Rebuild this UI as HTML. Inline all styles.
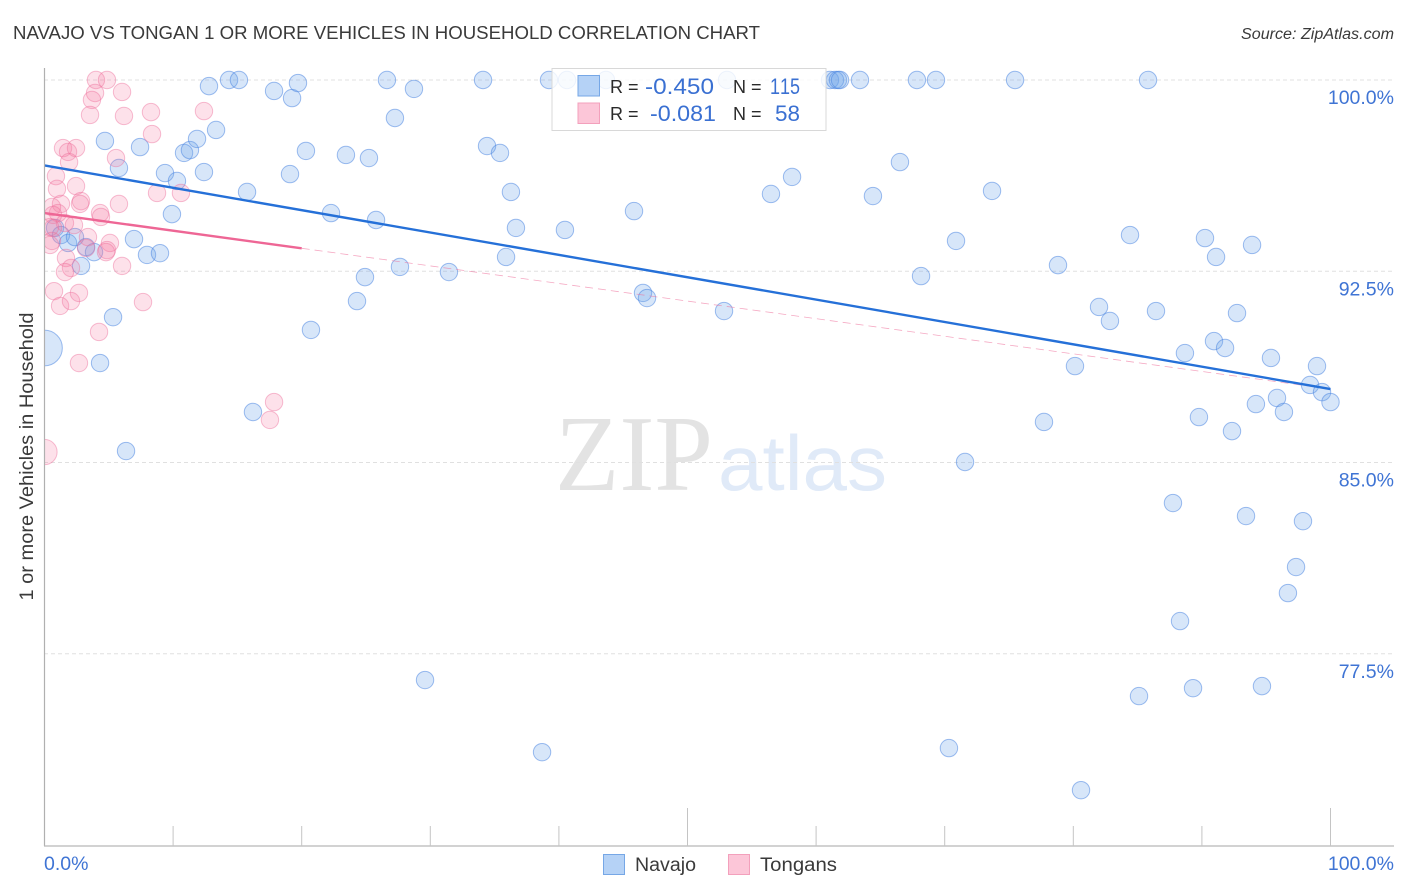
<!DOCTYPE html>
<html lang="en">
<head>
<meta charset="utf-8">
<title>Navajo vs Tongan 1 or More Vehicles in Household Correlation Chart</title>
<style>
html,body{margin:0;padding:0;background:#fff;}
svg{display:block;font-family:"Liberation Sans",Arial,sans-serif;}
</style>
</head>
<body>
<svg id="chart" xmlns="http://www.w3.org/2000/svg" width="1406" height="892" viewBox="0 0 1406 892">
  <defs><clipPath id="plot-clip"><rect x="44" y="60" width="1350" height="786"/></clipPath></defs>
  <text x="13" y="39" font-size="18.5" fill="#3a3a3a" textLength="747" lengthAdjust="spacingAndGlyphs">NAVAJO VS TONGAN 1 OR MORE VEHICLES IN HOUSEHOLD CORRELATION CHART</text>
  <text x="1394" y="39" font-size="15.5" font-style="italic" fill="#3a3a3a" text-anchor="end" textLength="153" lengthAdjust="spacingAndGlyphs">Source: ZipAtlas.com</text>
  <g>
    <text x="555" y="490" font-family="'Liberation Serif',serif" font-size="108" fill="#e3e3e3" textLength="158" lengthAdjust="spacingAndGlyphs">ZIP</text>
    <text x="718" y="490" font-size="78" fill="#e0eaf8" textLength="169" lengthAdjust="spacingAndGlyphs">atlas</text>
  </g>
  <g id="grid"></g>
  <g id="points-navajo" clip-path="url(#plot-clip)"></g>
  <g id="points-tongan" clip-path="url(#plot-clip)"></g>
  <g id="trends"></g>
  <g id="axes"></g>
  <text transform="translate(33,456.5) rotate(-90)" font-size="19" fill="#3a3a3a" text-anchor="middle" textLength="288" lengthAdjust="spacingAndGlyphs">1 or more Vehicles in Household</text>
  <g>
    <rect x="552" y="68.5" width="274" height="62" fill="#fff" fill-opacity="0.82" stroke="#d8d8d8" stroke-width="1"/>
    <rect x="578" y="75.5" width="21.5" height="20.5" fill="#b5d2f6" stroke="#76a7e6" stroke-width="1"/>
    <rect x="578" y="103" width="21.5" height="20.5" fill="#fcc6d8" stroke="#f3a0bc" stroke-width="1"/>
    <text x="610" y="93" font-size="18" fill="#2a2a2a">R =</text>
    <text x="645" y="94" font-size="22" fill="#3a70d2" textLength="69" lengthAdjust="spacingAndGlyphs">-0.450</text>
    <text x="733" y="93" font-size="18" fill="#2a2a2a">N =</text>
    <text x="770" y="94" font-size="22" fill="#3a70d2" font-kerning="none" style="font-kerning:none" textLength="30" lengthAdjust="spacingAndGlyphs">115</text>
    <text x="610" y="120" font-size="18" fill="#2a2a2a">R =</text>
    <text x="650" y="121" font-size="22" fill="#3a70d2" textLength="66" lengthAdjust="spacingAndGlyphs">-0.081</text>
    <text x="733" y="120" font-size="18" fill="#2a2a2a">N =</text>
    <text x="775" y="121" font-size="22" fill="#3a70d2" textLength="25" lengthAdjust="spacingAndGlyphs">58</text>
  </g>
  <g>
    <rect x="603.5" y="854.5" width="21" height="20" fill="#b5d2f6" stroke="#76a7e6"/>
    <text x="635" y="871" font-size="19" fill="#3a3a3a" textLength="61" lengthAdjust="spacingAndGlyphs">Navajo</text>
    <rect x="728.5" y="854.5" width="21" height="20" fill="#fcc6d8" stroke="#f3a0bc"/>
    <text x="760" y="871" font-size="19" fill="#3a3a3a" textLength="77" lengthAdjust="spacingAndGlyphs">Tongans</text>
  </g>
</svg>
<script>
const xTicks = [0,10,20,30,40,50,60,70,80,90,100];
const xMajorTicks = [0,50,100];
const xTickLabels = ["0.0%","100.0%"];
const xTickLabelValues = [0,100];
const yTicks = [100,92.5,85,77.5];
const yTickLabels = ["100.0%","92.5%","85.0%","77.5%"];

const navajoX = [12.79,14.35,15.12,17.85,19.25,19.71,26.63,28.73,34.10,39.23,40.63,43.66,53.07,61.08,61.47,61.70,61.86,63.41,67.84,69.32,75.47,85.81,
27.25,4.70,7.43,5.79,9.37,10.30,12.40,10.85,11.31,11.86,13.34,9.91,15.75,20.33,19.09,23.44,25.23,22.28,25.78,34.41,35.42,36.27,36.66,40.47,45.84,56.49,58.13,64.42,66.52,73.68,70.88,84.41,90.24,91.10,93.90,78.81,68.16,35.89,31.45,27.64,24.92,24.30,20.72,5.33,4.32,6.34,16.21,46.54,46.85,52.84,82.00,82.85,86.43,92.73,80.13,88.68,90.94,91.80,95.37,98.95,98.41,99.34,100,95.84,96.38,94.20,89.77,92.34,77.72,71.58,87.75,93.43,97.86,97.32,96.69,88.30,29.59,85.11,89.31,94.67,70.33,38.69,80.60,
0.82,1.28,1.83,2.37,3.23,3.85,2.84,6.96,7.97,8.98];
const navajoY = [99.76,100,100,99.57,99.29,99.88,100,99.65,100,100,100,100,100,100,100,100,100,100,100,100,100,100,
98.51,97.61,97.37,96.55,96.35,96.04,96.39,97.14,97.25,97.69,98.04,94.74,95.61,97.22,96.31,97.06,96.94,94.78,94.51,97.41,97.14,95.61,94.20,94.12,94.86,95.53,96.20,95.45,96.78,95.65,93.69,93.92,93.80,93.06,93.53,92.74,92.31,93.06,92.47,92.67,92.27,91.33,90.20,90.70,88.90,85.45,86.98,91.65,91.45,90.94,91.10,90.55,90.94,90.86,88.78,89.29,89.76,89.49,89.10,88.78,88.04,87.76,87.37,87.53,86.98,87.29,86.78,86.23,86.59,85.02,83.41,82.90,82.70,80.90,79.88,78.78,76.47,75.84,76.15,76.23,73.80,73.64,72.15,
94.20,93.92,93.61,93.84,93.45,93.25,92.71,93.76,93.14,93.21];
const navajoLargeX = [0];
const navajoLargeY = [89.49];
const navajoLargeSize = [2.05];

const tonganX = [4.00,4.86,3.93,3.69,6.03,3.54,6.18,8.28,12.40,8.36,1.44,1.83,2.45,1.91,5.56,0.89,0.97,2.45,8.75,10.61,2.84,2.76,1.28,0.58,5.79,4.32,4.39,1.05,0.66,1.59,2.29,0.66,0.43,3.38,5.09,4.86,4.78,3.23,0.43,0.58,1.67,2.06,1.59,6.03,0.74,1.21,2.06,2.68,7.66,4.24,2.68,17.85,17.53];
const tonganY = [100,100,99.49,99.22,99.53,98.63,98.59,98.74,98.78,97.88,97.33,97.18,97.33,96.78,96.94,96.23,95.73,95.84,95.57,95.57,95.25,95.14,95.14,95.02,95.14,94.78,94.63,94.78,94.71,94.39,94.31,94.20,94.23,93.84,93.61,93.33,93.25,93.41,93.53,93.69,93.02,92.63,92.47,92.71,91.72,91.14,91.33,91.65,91.29,90.12,88.90,87.37,86.67];
const tonganLargeX = [0];
const tonganLargeY = [85.41];
const tonganLargeSize = [1.45];

const navajoTrendX = [0,100];
const navajoTrendY = [96.65,87.88];
const tonganTrendSolidX = [0,20];
const tonganTrendSolidY = [94.78,93.40];
const tonganTrendDashX = [20,100];
const tonganTrendDashY = [93.40,87.88];

const NS = "http://www.w3.org/2000/svg";
const xScale = v => 44.5 + v * 12.86;
const yScale = v => 80 + (100 - v) * 25.5;
const BASE_R = 8.7;

function mk(parent, tag, attrs) {
  const el = document.createElementNS(NS, tag);
  for (const k in attrs) el.setAttribute(k, attrs[k]);
  parent.appendChild(el);
  return el;
}

const grid = document.getElementById("grid");
yTicks.forEach(v => {
  const l = mk(grid, "line", {x1:44, x2:1394, y1:yScale(v), y2:yScale(v), stroke:"#e0e0e0", "stroke-width":1, "stroke-dasharray":"4 3"});
  
  
});

function drawPoints(group, xs, ys, sizes, fill, stroke, name) {
  xs.forEach((x, i) => {
    const c = mk(group, "circle", {cx:xScale(x), cy:yScale(ys[i]), r:BASE_R * (sizes ? sizes[i] : 1), fill:fill, stroke:stroke, "stroke-width":1});
    
    
  });
}
const gN = document.getElementById("points-navajo");
const gT = document.getElementById("points-tongan");
const navFill = "rgba(110,165,235,0.28)", navStroke = "rgba(70,130,225,0.52)";
const tonFill = "rgba(245,125,165,0.23)", tonStroke = "rgba(238,110,155,0.45)";
drawPoints(gN, navajoX, navajoY, null, navFill, navStroke, "navajo-point");
drawPoints(gN, navajoLargeX, navajoLargeY, navajoLargeSize, navFill, navStroke, "navajo-point-large");
drawPoints(gT, tonganX, tonganY, null, tonFill, tonStroke, "tongan-point");
drawPoints(gT, tonganLargeX, tonganLargeY, tonganLargeSize, tonFill, tonStroke, "tongan-point-large");

const trends = document.getElementById("trends");
const dashT = mk(trends, "line", {x1:xScale(tonganTrendDashX[0]), y1:yScale(tonganTrendDashY[0]), x2:xScale(tonganTrendDashX[1]), y2:yScale(tonganTrendDashY[1]), stroke:"#ee6f9b", "stroke-width":0.8, "stroke-dasharray":"8 5", "stroke-opacity":0.6});


const solidT = mk(trends, "line", {x1:xScale(tonganTrendSolidX[0]), y1:yScale(tonganTrendSolidY[0]), x2:xScale(tonganTrendSolidX[1]), y2:yScale(tonganTrendSolidY[1]), stroke:"#ee6695", "stroke-width":2.4});


const solidN = mk(trends, "line", {x1:xScale(navajoTrendX[0]), y1:yScale(navajoTrendY[0]), x2:xScale(navajoTrendX[1]), y2:yScale(navajoTrendY[1]), stroke:"#2570d8", "stroke-width":2.4});



const axes = document.getElementById("axes");
const yAxis = mk(axes, "line", {x1:44.5, x2:44.5, y1:68, y2:846, stroke:"#b0b0b0", "stroke-width":1.2});


const xAxis = mk(axes, "line", {x1:44, x2:1394, y1:846, y2:846, stroke:"#b8b8b8", "stroke-width":1.2});



xTicks.forEach(v => {
  if (v === 0) return;
  const top = xMajorTicks.includes(v) ? 808 : 826;
  const t = mk(axes, "line", {x1:xScale(v), x2:xScale(v), y1:top, y2:846, stroke:"#c4c4c4", "stroke-width":1});
  
  
});
xTickLabels.forEach((s, i) => {
  const v = xTickLabelValues[i];
  const t = mk(axes, "text", {x: v === 0 ? 44 : 1394, y:870, "font-size":19.5, fill:"#3f74d4", "text-anchor": v === 0 ? "start" : "end"});
  t.textContent = s;
  
  
});
yTicks.forEach((v, i) => {
  const t = mk(axes, "text", {x:1394, y:yScale(v) + 24, "font-size":19.5, fill:"#3f74d4", "text-anchor":"end"});
  t.textContent = yTickLabels[i];
  
  
});
</script>
</body>
</html>
